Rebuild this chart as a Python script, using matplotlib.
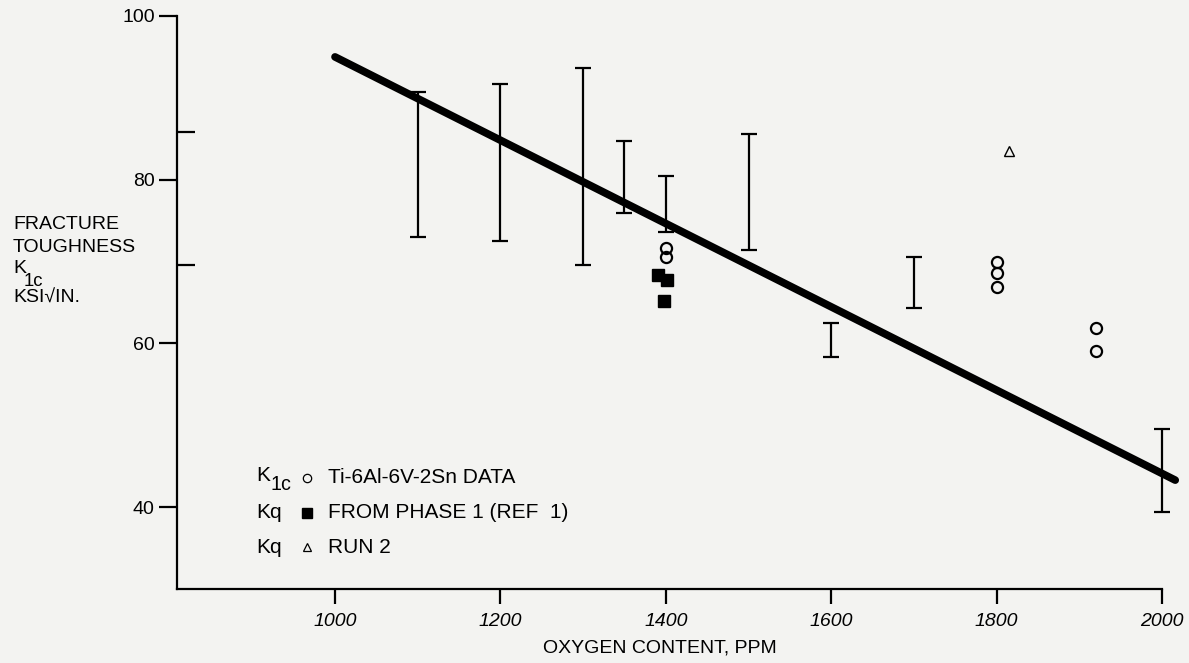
import numpy as np
import matplotlib
matplotlib.use("Agg")
import matplotlib.pyplot as plt

plt.rcParams['font.family'] = ['Liberation Sans', 'DejaVu Sans']
plt.rcParams['mathtext.default'] = 'regular'

# scatter bands (low / high)
band_ppm = [1100, 1200, 1300, 1350, 1400, 1500, 1600, 1700, 2000]
band_low = [73.0, 72.5, 69.6, 75.9, 73.6, 71.4, 58.4, 64.3, 39.4]
band_high = [90.7, 91.7, 93.6, 84.7, 80.5, 85.6, 62.5, 70.5, 49.5]

# K1c Ti-6Al-6V-2Sn data (open circles)
k1c_ppm = [1400, 1400, 1800, 1800, 1800, 1920, 1920]
k1c_val = [71.7, 70.5, 70.0, 68.6, 66.9, 61.9, 59.1]

# Kq from phase 1 (filled squares)
kq1_ppm = [1390, 1401, 1398]
kq1_val = [68.3, 67.7, 65.2]

# Kq run 2 (triangle)
kq2_ppm = [1815]
kq2_val = [83.5]

# trend line end points
trend_ppm = [1000, 2016]
trend_val = [95.0, 43.3]

bg = '#f3f3f1'
fig = plt.figure(figsize=(11.89, 6.63), dpi=100, facecolor=bg)
ax = fig.add_axes([0.1489, 0.1116, 0.8284, 0.8643], facecolor=bg)

ax.plot(trend_ppm, trend_val, color='black', lw=5.5, solid_capstyle='round',
        zorder=3, clip_on=False)

mid = (np.array(band_low) + np.array(band_high)) / 2
half = (np.array(band_high) - np.array(band_low)) / 2
eb = ax.errorbar(band_ppm, mid, yerr=half, fmt='none', ecolor='black',
                 elinewidth=1.6, capsize=6, capthick=1.6, zorder=2)
for art in eb.get_children():
    art.set_clip_on(False)

ax.plot(k1c_ppm, k1c_val, 'o', ms=8, mfc='none', mec='black', mew=1.6, zorder=4)
ax.plot(kq1_ppm, kq1_val, 's', ms=8.5, color='black', zorder=4)
ax.plot(kq2_ppm, kq2_val, '^', ms=7, mfc='none', mec='black', mew=1.0, zorder=4)

ax.set_xlim(809, 2000)
ax.set_ylim(30, 100)

for s in ['top', 'right']:
    ax.spines[s].set_visible(False)
for s in ['left', 'bottom']:
    ax.spines[s].set_linewidth(1.6)

ax.set_xticks([1000, 1200, 1400, 1600, 1800, 2000])
ax.set_xticklabels(['1000', '1200', '1400', '1600', '1800', '2000'],
                   fontsize=14, style='italic')
ax.set_yticks([40, 60, 80, 100])
ax.set_yticklabels(['40', '60', '80', '100'], fontsize=14)
ax.tick_params(axis='x', direction='out', length=11, width=1.6, pad=6)
ax.tick_params(axis='y', direction='out', length=13, width=1.6, pad=3)
ax.set_yticks([69.6, 85.8], minor=True)
ax.tick_params(axis='y', which='minor', direction='in', length=13, width=1.6)


def k_sub(x, y, size, trans):
    # K with a large, lowered "1c" subscript
    ax.text(x, y, 'K', transform=trans, fontsize=size, va='center')
    ax.annotate('1c', xy=(x, y), xycoords=trans, xytext=(size * 0.72, -size * 0.45),
                textcoords='offset points', fontsize=size * 0.95, va='center',
                annotation_clip=False)


# legend written as text, like the original
rows = [0.194, 0.133, 0.073]
fs = 15
k_sub(0.080, rows[0] + 0.004, fs, ax.transAxes)
ax.text(0.080, rows[1], 'Kq', transform=ax.transAxes, fontsize=fs, va='center')
ax.text(0.080, rows[2], 'Kq', transform=ax.transAxes, fontsize=fs, va='center')
ax.plot([0.132], [rows[0]], 'o', ms=6, mfc='none', mec='black', mew=0.9, transform=ax.transAxes)
ax.plot([0.132], [rows[1]], 's', ms=7, color='black', transform=ax.transAxes)
ax.plot([0.132], [rows[2]], '^', ms=6, mfc='none', mec='black', mew=0.9, transform=ax.transAxes)
ax.text(0.153, rows[0], 'Ti-6Al-6V-2Sn DATA', transform=ax.transAxes, fontsize=fs, va='center')
ax.text(0.153, rows[1], 'FROM PHASE 1 (REF  1)', transform=ax.transAxes, fontsize=fs, va='center')
ax.text(0.153, rows[2], 'RUN 2', transform=ax.transAxes, fontsize=fs, va='center')

# y label block
ys = 14
fig.text(0.011, 0.661, 'FRACTURE', fontsize=ys, va='center')
fig.text(0.011, 0.627, 'TOUGHNESS', fontsize=ys, va='center')
fig.text(0.011, 0.595, 'K', fontsize=ys, va='center')
fig.text(0.020, 0.575, '1c', fontsize=ys * 0.95, va='center')
fig.text(0.011, 0.550, 'KSI\u221aIN.', fontsize=ys, va='center')

fig.text(0.555, 0.023, 'OXYGEN CONTENT, PPM', fontsize=14, ha='center', va='center')

plt.savefig('out.png', dpi=100, facecolor=bg)
plt.close()
